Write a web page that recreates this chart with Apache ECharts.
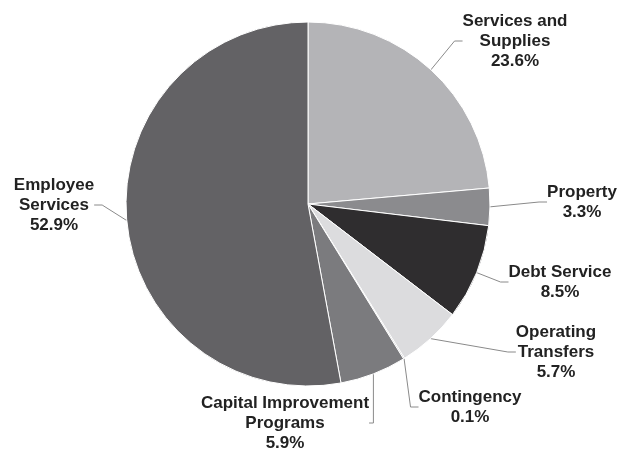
<!DOCTYPE html>
<html>
<head>
<meta charset="utf-8">
<script src="https://cdn.jsdelivr.net/npm/echarts@6/dist/echarts.min.js"></script>
<style>
html,body{margin:0;padding:0;background:#fff;}
#chart{width:617px;height:449px;}
</style>
</head>
<body>
<div id="chart"></div>
<script>
const categories = ['Services and\nSupplies', 'Property', 'Debt Service', 'Operating\nTransfers', 'Contingency', 'Capital Improvement\nPrograms', 'Employee\nServices'];
const values = [23.6, 3.3, 8.5, 5.7, 0.1, 5.9, 52.9];
const colors = ['#b4b4b7', '#8b8b8e', '#2f2d2f', '#dcdcde', '#a0a0a3', '#7b7b7e', '#636265'];
// label block centers (layout only)
const labelPos = [[515, 41], [582, 202], [560, 282], [556, 352], [470, 407], [285, 423], [54, 205]];

const chart = echarts.init(document.getElementById('chart'));
chart.setOption({
  animation: false,
  series: [{
    type: 'pie',
    center: [308, 204],
    radius: [0, 182],
    startAngle: 90,
    clockwise: true,
    avoidLabelOverlap: false,
    itemStyle: { borderColor: '#ffffff', borderWidth: 1 },
    label: {
      show: true,
      position: 'outside',
      formatter: p => p.name + '\n' + p.value.toFixed(1) + '%',
      fontFamily: 'Liberation Sans, Arial, sans-serif',
      fontWeight: 'bold',
      fontSize: 17,
      lineHeight: 20,
      color: '#222222',
      align: 'center'
    },
    labelLine: {
      show: true,
      length: 15,
      length2: 8,
      lineStyle: { color: '#8a8a8a', width: 1 }
    },
    labelLayout: function (params) {
      const p = labelPos[params.dataIndex];
      return { x: p[0], y: p[1], align: 'center', verticalAlign: 'middle' };
    },
    data: categories.map((c, i) => ({ name: c, value: values[i], itemStyle: { color: colors[i] } }))
  }]
});
</script>
</body>
</html>
